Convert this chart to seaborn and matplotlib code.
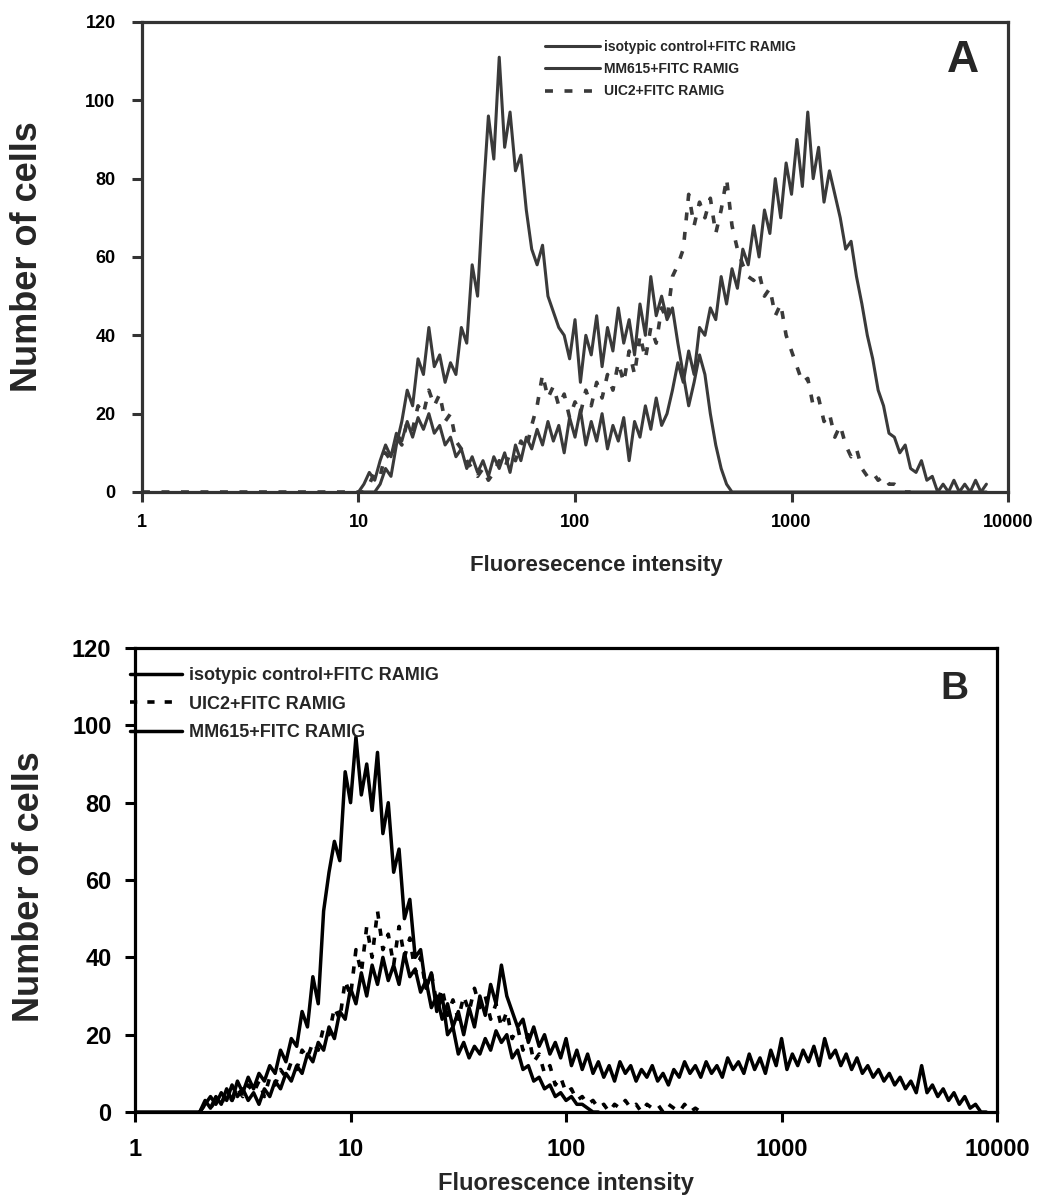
import numpy as np
import pandas as pd
import seaborn as sns
import matplotlib.pyplot as plt
from matplotlib.ticker import NullLocator

# ширина канала в log10
step = 0.025

# --- панель A ---
a_iso_lo = 1.0
a_iso = [0, 0, 0, 0,
         2, 6, 4, 12, 18, 26, 22, 34, 30, 42, 32, 35, 28, 33, 30, 42, 38, 58, 50, 75, 96, 85,
         111, 88, 97, 82, 86, 72, 62, 58, 63, 50, 46, 42, 40, 34, 44, 28, 40, 35, 45, 32, 42,
         36, 47, 38, 44, 35, 48, 40, 55, 45, 50, 44, 47, 38, 30, 22, 28, 35, 30, 20, 12, 6, 2, 0] + [0] * 47

a_mm_lo = 1.0
a_mm = [0, 2, 5, 3, 8, 12, 9, 15, 13, 18, 14, 19, 16, 20, 15, 17, 12, 14, 9, 11,
        6, 9, 5, 8, 4, 9, 6, 10, 5, 12, 8, 14, 11, 16, 12, 18, 13, 17, 10, 19,
        14, 21, 12, 18, 13, 20, 11, 17, 13, 19, 8, 18, 14, 22, 16, 24, 17, 20, 26, 33,
        28, 36, 30, 42, 40, 47, 44, 55, 48, 57, 52, 62, 58, 68, 60, 72, 66, 80, 70, 84,
        76, 90, 78, 97, 80, 88, 74, 82, 76, 70, 62, 64, 55, 48, 40, 34, 26, 22, 15, 14,
        10, 12, 6, 5, 8, 3, 4, 0, 2, 0, 3, 0, 2, 0, 3, 0, 2]

a_uic_lo = 0.0
a_uic = [0] * 40 + [
    0, 0, 2, 5, 4, 10, 8, 14, 12, 18, 16, 22, 20, 26, 22, 25, 18, 20, 13, 11,
    8, 6, 4, 6, 3, 5, 8, 6, 10, 8, 13, 11, 17, 22, 30, 24, 27, 22, 25, 19,
    23, 20, 26, 22, 28, 24, 30, 26, 33, 28, 36, 30, 40, 34, 42, 38, 47, 44, 55, 58,
    62, 76, 68, 74, 70, 75, 66, 72, 80, 68, 62, 58, 55, 54, 56, 50, 52, 45, 48, 40,
    36, 32, 28, 29, 22, 24, 18, 20, 14, 17, 12, 9, 11, 6, 4, 5, 3, 4, 2, 2, 1, 0, 0]

# --- панель B ---
b_iso_lo = 0.0
b_iso = [0] * 12 + [
    0, 3, 1, 4, 2, 6, 3, 8, 5, 9, 6, 10, 8, 12, 10, 16, 13, 19, 17, 26,
    22, 35, 28, 52, 62, 70, 65, 88, 80, 97, 82, 90, 78, 93, 72, 80, 62, 68, 50, 55,
    40, 42, 32, 36, 26, 30, 20, 22, 15, 18, 14, 17, 15, 19, 16, 21, 18, 20, 14, 16,
    11, 12, 8, 9, 6, 7, 4, 5, 3, 4, 2, 2, 1, 0, 0]

b_uic_lo = 0.3
b_uic = [0, 2, 1, 3, 2, 5, 3, 6, 4, 7, 5, 8, 4, 9, 7, 11, 9, 13, 11, 16,
         14, 18, 16, 22, 20, 27, 24, 34, 30, 42, 36, 48, 40, 52, 42, 46, 38, 48, 40, 45,
         36, 40, 32, 36, 28, 32, 25, 29, 24, 30, 26, 32, 27, 30, 24, 28, 22, 26, 19, 22,
         16, 20, 13, 15, 10, 12, 7, 9, 5, 6, 3, 4, 2, 3, 1, 2, 0, 2, 1, 3,
         1, 2, 0, 2, 1, 2, 0, 2, 1, 0, 2, 0, 1, 0, 0]

b_mm_lo = 0.3
b_mm = [0, 2, 4, 2, 5, 3, 7, 4, 6, 3, 5, 2, 6, 4, 8, 6, 10, 8, 12, 10,
        15, 13, 18, 16, 22, 19, 26, 24, 32, 28, 36, 30, 38, 33, 40, 34, 38, 33, 41, 35,
        37, 31, 34, 27, 30, 24, 28, 22, 26, 20, 27, 22, 30, 25, 33, 28, 38, 30, 26, 22,
        24, 18, 22, 17, 20, 15, 18, 14, 19, 12, 16, 11, 15, 10, 13, 9, 12, 8, 13, 10,
        12, 8, 11, 9, 12, 8, 10, 7, 11, 9, 13, 10, 12, 9, 13, 10, 12, 9, 14, 11,
        13, 10, 15, 11, 14, 10, 16, 12, 19, 11, 15, 12, 16, 13, 17, 12, 19, 14, 16, 12,
        15, 11, 14, 10, 12, 9, 11, 8, 10, 7, 9, 6, 8, 5, 12, 5, 7, 4, 6, 3,
        5, 2, 4, 1, 2, 0, 0]

lab_iso = 'isotypic control+FITC RAMIG'
lab_mm = 'MM615+FITC RAMIG'
lab_uic = 'UIC2+FITC RAMIG'

xticks = [1, 10, 100, 1000, 10000]
xticklabels = ['1', '10', '100', '1000', '10000']
yticks = [0, 20, 40, 60, 80, 100, 120]


def chan(lo, counts):
    return 10 ** (lo + step * np.arange(len(counts)))


sns.set_theme(style='ticks')
plt.rcParams['font.family'] = ['Liberation Sans', 'DejaVu Sans']
plt.rcParams['font.weight'] = 'bold'

fig = plt.figure(figsize=(10.47, 12), dpi=100)
axA = fig.add_axes([0.1356, 0.59, 0.8272, 0.3917])
axB = fig.add_axes([0.129, 0.0733, 0.8233, 0.3867])

# Панель A
cA = '#3a3a3a'
sns.lineplot(x=chan(a_iso_lo, a_iso), y=a_iso, ax=axA, color=cA, linewidth=2.2, label=lab_iso)
sns.lineplot(x=chan(a_mm_lo, a_mm), y=a_mm, ax=axA, color=cA, linewidth=2.2, label=lab_mm)
sns.lineplot(x=chan(a_uic_lo, a_uic), y=a_uic, ax=axA, color=cA, linewidth=2.6,
             linestyle=(0, (2.2, 3.2)), label=lab_uic)

# Панель B
cB = 'black'
sns.lineplot(x=chan(b_iso_lo, b_iso), y=b_iso, ax=axB, color=cB, linewidth=2.5, label=lab_iso)
sns.lineplot(x=chan(b_uic_lo, b_uic), y=b_uic, ax=axB, color=cB, linewidth=2.6,
             linestyle=(0, (2, 2.8)), label=lab_uic)
sns.lineplot(x=chan(b_mm_lo, b_mm), y=b_mm, ax=axB, color=cB, linewidth=2.5, label=lab_mm)

for ax, col, tsize, xlab, lsize in [(axA, '#333333', 13, 'Fluoresecence intensity', 16),
                                    (axB, 'black', 17, 'Fluorescence intensity', 17)]:
    ax.set_xscale('log')
    ax.set_xlim(1, 10000)
    ax.set_ylim(0, 120)
    ax.set_xticks(xticks)
    ax.set_xticklabels(xticklabels)
    ax.xaxis.set_minor_locator(NullLocator())
    ax.set_yticks(yticks)
    for s in ax.spines.values():
        s.set_visible(True)
        s.set_color(col)
        s.set_linewidth(2.3)
    ax.tick_params(axis='both', direction='out', length=7, width=2.2, color=col,
                   labelsize=tsize, labelcolor='black')
    ax.tick_params(axis='y', pad=12 if ax is axA else 10)
    ax.tick_params(axis='x', pad=9 if ax is axA else 12)
    for t in ax.get_xticklabels() + ax.get_yticklabels():
        t.set_fontweight('bold')
    ax.set_ylabel('Number of cells', fontsize=26, fontweight='bold')
    ax.set_xlabel(xlab, fontsize=lsize, fontweight='bold')

axA.yaxis.set_label_coords(-0.112, 0.5)
axA.xaxis.set_label_coords(0.525, -0.135)
axB.yaxis.set_label_coords(-0.102, 0.485)
axB.xaxis.set_label_coords(0.5, -0.13)

axA.text(0.948, 0.919, 'A', transform=axA.transAxes, ha='center', va='center',
         fontsize=32, fontweight='bold')
axB.text(0.951, 0.912, 'B', transform=axB.transAxes, ha='center', va='center',
         fontsize=28, fontweight='bold')

# Легенды
axA.legend(loc='upper left', bbox_to_anchor=(0.465, 0.962), frameon=False,
           borderpad=0, borderaxespad=0, handlelength=4.0, handletextpad=0.3,
           labelspacing=0.6, prop=dict(weight='bold', size=10))
axB.legend(loc='upper left', bbox_to_anchor=(-0.006, 0.958), frameon=False,
           borderpad=0, borderaxespad=0, handlelength=2.9, handletextpad=0.4,
           labelspacing=0.62, prop=dict(weight='bold', size=13))

fig.savefig('out.png', dpi=100)
